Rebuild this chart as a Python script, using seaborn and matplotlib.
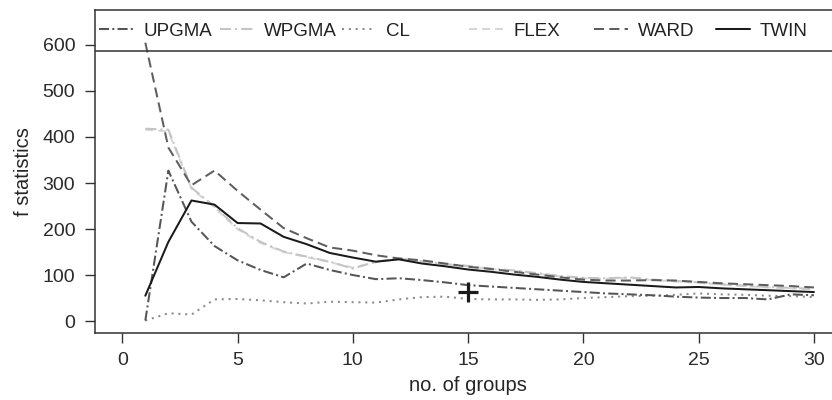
import numpy as np
import pandas as pd
import matplotlib
matplotlib.use("Agg")
import matplotlib.pyplot as plt
from matplotlib.lines import Line2D
import seaborn as sns

# values (f statistic vs. number of groups)
groups = list(range(1, 31))
upgma = [1, 327, 216, 163, 132, 111, 95, 125, 111, 100, 91, 93, 89, 84, 78,
         75, 72, 69, 66, 63, 60, 58, 56, 53, 51, 50, 50, 47, 58, 56]
wpgma = [418, 416, 290, 249, 202, 172, 151, 140, 129, 114, 129, 136, 130, 124, 120,
         114, 110, 104, 98, 94, 93, 95, 90, 87, 84, 80, 77, 74, 72, 70]
cl = [1, 17, 14, 47, 48, 45, 41, 38, 42, 41, 40, 47, 52, 53, 48,
      47, 47, 46, 47, 50, 52, 54, 55, 57, 60, 58, 57, 55, 54, 52]
flex = [416, 412, 288, 247, 200, 170, 150, 139, 128, 116, 128, 135, 129, 123, 119,
        113, 109, 103, 97, 93, 92, 94, 89, 86, 83, 79, 76, 73, 71, 69]
ward = [605, 377, 295, 327, 283, 242, 202, 180, 160, 153, 143, 136, 132, 125, 118,
        113, 107, 101, 95, 90, 88, 88, 89, 88, 85, 82, 80, 78, 76, 73]
twin = [55, 172, 262, 253, 213, 212, 183, 167, 148, 138, 129, 134, 125, 119, 112,
        107, 101, 96, 90, 85, 82, 79, 76, 73, 74, 71, 69, 67, 65, 63]
methods = ["UPGMA", "WPGMA", "CL", "FLEX", "WARD", "TWIN"]
marker_x, marker_y = [15], [64]

series = {"UPGMA": upgma, "WPGMA": wpgma, "CL": cl, "FLEX": flex, "WARD": ward, "TWIN": twin}
df = pd.concat(
    [pd.DataFrame({"groups": groups, "f": vals, "method": m}) for m, vals in series.items()],
    ignore_index=True,
)

palette = {"UPGMA": "#555555", "WPGMA": "#c4c4c4", "CL": "#8a8a8a",
           "FLEX": "#d6d6d6", "WARD": "#5e5e5e", "TWIN": "#1a1a1a"}
dashes = {"UPGMA": (5, 1.6, 1, 1.6), "WPGMA": (5.5, 2, 1, 2), "CL": (1, 2.4),
          "FLEX": (4, 2.5), "WARD": (5, 2.6), "TWIN": ""}
draw_order = ["FLEX", "WPGMA", "CL", "UPGMA", "WARD", "TWIN"]

sns.set_theme(style="ticks")
plt.rcParams["font.family"] = ["Liberation Sans", "DejaVu Sans"]
plt.rcParams["text.color"] = "#222222"

fig = plt.figure(figsize=(8.32, 4.0), dpi=100)
# box runs past the right edge of the picture, as in the reference
ax = fig.add_axes([94.6 / 832, 1 - 333 / 400, 747 / 832, 323 / 400])

sns.lineplot(data=df, x="groups", y="f", hue="method", style="method",
             hue_order=draw_order, style_order=draw_order,
             palette=palette, dashes=dashes, linewidth=1.45,
             legend=False, ax=ax)
ax.plot(marker_x, marker_y, marker="+", ms=15, mew=2.3, color="#1a1a1a", ls="none")

ax.set_xlim(-1.2, 31.2)
ax.set_ylim(-26, 676)
ax.set_xticks(range(0, 31, 5))
ax.set_yticks(range(0, 601, 100))
ax.tick_params(axis="both", direction="out", length=7, width=1.0,
               color="#333333", labelsize=14, labelcolor="#2a2a2a", pad=7)
for side in ["left", "bottom", "top", "right"]:
    ax.spines[side].set_color("#333333")
    ax.spines[side].set_linewidth(1.1)

ax.set_xlabel("no. of groups", fontsize=14.5, labelpad=5)
ax.set_ylabel("f statistics", fontsize=14.5, labelpad=7)

# legend strip along the top of the box
ax.axhline(586.7, color="#333333", lw=1.1)
legend_x = [99, 220, 342, 469, 594, 716]
for m, px in zip(methods, legend_x):
    h = Line2D([], [], color=palette[m], lw=1.45,
               dashes=dashes[m] if dashes[m] else (None, None),
               linestyle="-")
    fig.legend(handles=[h], labels=[m], loc="center left",
               bbox_to_anchor=(px / 832, 1 - 31 / 400), frameon=False,
               borderpad=0, borderaxespad=0, handlelength=1.8,
               handletextpad=0.55, fontsize=13.5)

fig.savefig("out.png", dpi=100)
